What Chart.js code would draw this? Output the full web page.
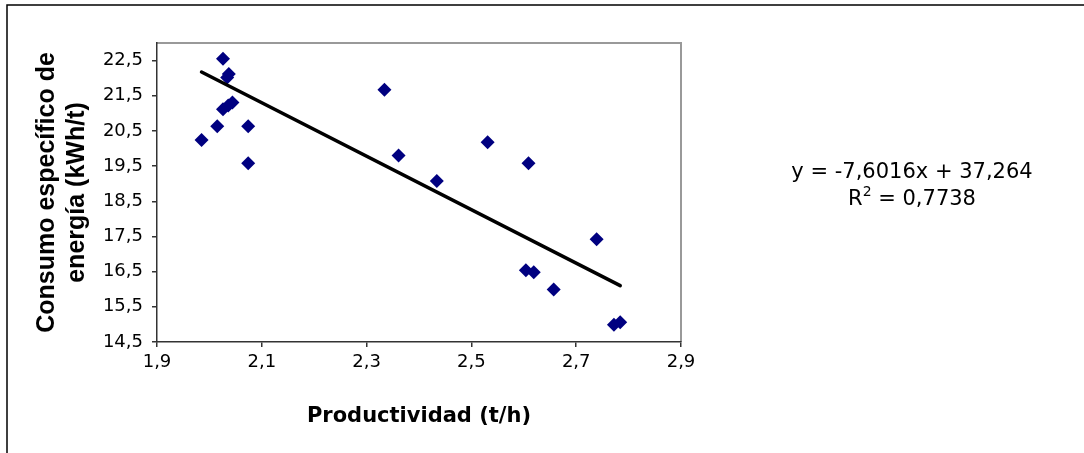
<!DOCTYPE html>
<html>
<head>
<meta charset="utf-8">
<script src="https://cdn.jsdelivr.net/npm/chart.js@4/dist/chart.umd.min.js"></script>
<style>
  html, body { margin: 0; padding: 0; background: #fff; }
  #wrap { width: 1084px; height: 453px; }
</style>
</head>
<body>
<div id="wrap"><canvas id="scatterChart" width="1084" height="453"></canvas></div>
<script>
// Productividad (t/h) vs consumo específico de energía (kWh/t)
const productividad = [1.985, 2.015, 2.026, 2.037, 2.034, 2.044, 2.036, 2.026, 2.074, 2.074,
                       2.334, 2.361, 2.434, 2.531, 2.609, 2.739, 2.604, 2.619, 2.657, 2.772, 2.784];
const consumo = [20.24, 20.63, 22.55, 22.12, 22.02, 21.31, 21.22, 21.12, 20.63, 19.58,
                 21.67, 19.80, 19.08, 20.18, 19.58, 17.42, 16.54, 16.48, 15.99, 14.99, 15.06];

// Linear trendline shown on the chart
const slope = -7.6016;
const intercept = 37.264;
const rSquared = 0.7738;

const xTicks = [1.9, 2.1, 2.3, 2.5, 2.7, 2.9];
const yTicks = [14.5, 15.5, 16.5, 17.5, 18.5, 19.5, 20.5, 21.5, 22.5];

const comma = (v, d) => v.toFixed(d).replace('.', ',');

const points = productividad.map((x, i) => ({ x: x, y: consumo[i] }));
const xMin = Math.min(...productividad);
const xMax = Math.max(...productividad);
const trend = [xMin, xMax].map(x => ({ x: x, y: slope * x + intercept }));

// Gray frame on the plot area plus the outer black border
const framePlugin = {
    id: 'frame',
    beforeDraw(chart) {
        const { ctx, chartArea: a } = chart;
        ctx.save();
        ctx.strokeStyle = '#000';
        ctx.lineWidth = 1.5;
        ctx.beginPath();
        ctx.moveTo(7, 460);
        ctx.lineTo(7, 5);
        ctx.lineTo(1100, 5);
        ctx.stroke();
        ctx.strokeStyle = '#999';
        ctx.lineWidth = 2;
        ctx.beginPath();
        ctx.moveTo(a.left, a.top);
        ctx.lineTo(a.right, a.top);
        ctx.lineTo(a.right, a.bottom);
        ctx.stroke();
        ctx.restore();
    }
};

// Trendline equation label
const equationPlugin = {
    id: 'equation',
    afterDraw(chart) {
        const ctx = chart.ctx;
        const cx = 912;
        ctx.save();
        ctx.fillStyle = '#000';
        ctx.textBaseline = 'middle';
        ctx.font = '21px "DejaVu Sans"';
        ctx.textAlign = 'center';
        const sign = intercept < 0 ? '-' : '+';
        ctx.fillText('y = ' + comma(slope, 4) + 'x ' + sign + ' ' + comma(Math.abs(intercept), 3), cx, 173);

        const a = 'R', b = '2', c = ' = ' + comma(rSquared, 4);
        ctx.font = '21px "DejaVu Sans"';
        const wa = ctx.measureText(a).width, wc = ctx.measureText(c).width;
        ctx.font = '14px "DejaVu Sans"';
        const wb = ctx.measureText(b).width;
        let x = cx - (wa + wb + wc) / 2;
        ctx.textAlign = 'left';
        ctx.font = '21px "DejaVu Sans"';
        ctx.fillText(a, x, 200);
        x += wa;
        ctx.font = '14px "DejaVu Sans"';
        ctx.fillText(b, x, 192);
        x += wb;
        ctx.font = '21px "DejaVu Sans"';
        ctx.fillText(c, x, 200);
        ctx.restore();
    }
};

new Chart(document.getElementById('scatterChart').getContext('2d'), {
    type: 'scatter',
    data: {
        datasets: [
            {
                label: 'Datos',
                data: points,
                pointStyle: 'rectRot',
                pointRadius: 7,
                backgroundColor: '#000080',
                borderColor: '#000080',
                borderWidth: 0,
                order: 1
            },
            {
                type: 'line',
                label: 'Tendencia',
                data: trend,
                borderColor: '#000',
                borderWidth: 3.5,
                borderCapStyle: 'round',
                pointRadius: 0,
                fill: false,
                order: 0
            }
        ]
    },
    options: {
        responsive: false,
        animation: false,
        layout: { padding: { left: 0, top: 43, right: 403, bottom: 0 } },
        plugins: {
            legend: { display: false },
            tooltip: { enabled: false }
        },
        scales: {
            x: {
                type: 'linear',
                min: 1.9,
                max: 2.9,
                afterBuildTicks: scale => { scale.ticks = xTicks.map(v => ({ value: v })); },
                afterFit: scale => { scale.height = 111; },
                grid: { drawOnChartArea: false, drawTicks: true, tickLength: 5, color: '#333', lineWidth: 1.5 },
                border: { color: '#333', width: 1.5 },
                ticks: {
                    color: '#000',
                    padding: 5,
                    maxRotation: 0,
                    font: { family: 'DejaVu Sans', size: 18 },
                    callback: v => comma(v, 1)
                },
                title: {
                    display: true,
                    text: 'Productividad (t/h)',
                    color: '#000',
                    font: { family: 'DejaVu Sans', size: 21, weight: 'bold' },
                    padding: { top: 0, bottom: 24 }
                }
            },
            y: {
                type: 'linear',
                min: 14.5,
                max: 23,
                afterBuildTicks: scale => { scale.ticks = yTicks.map(v => ({ value: v })); },
                afterFit: scale => { scale.width = 157; },
                grid: { drawOnChartArea: false, drawTicks: true, tickLength: 5, color: '#333', lineWidth: 1.5 },
                border: { color: '#333', width: 1.5 },
                ticks: {
                    color: '#000',
                    padding: 9,
                    font: { family: 'DejaVu Sans', size: 18 },
                    callback: v => comma(v, 1)
                },
                title: {
                    display: true,
                    text: ['Consumo específico de', 'energía (kWh/t)'],
                    color: '#000',
                    font: { family: 'Liberation Sans', size: 25, weight: 'bold', lineHeight: 1.2 },
                    padding: { top: 32, bottom: 0 }
                }
            }
        }
    },
    plugins: [framePlugin, equationPlugin]
});
</script>
</body>
</html>
